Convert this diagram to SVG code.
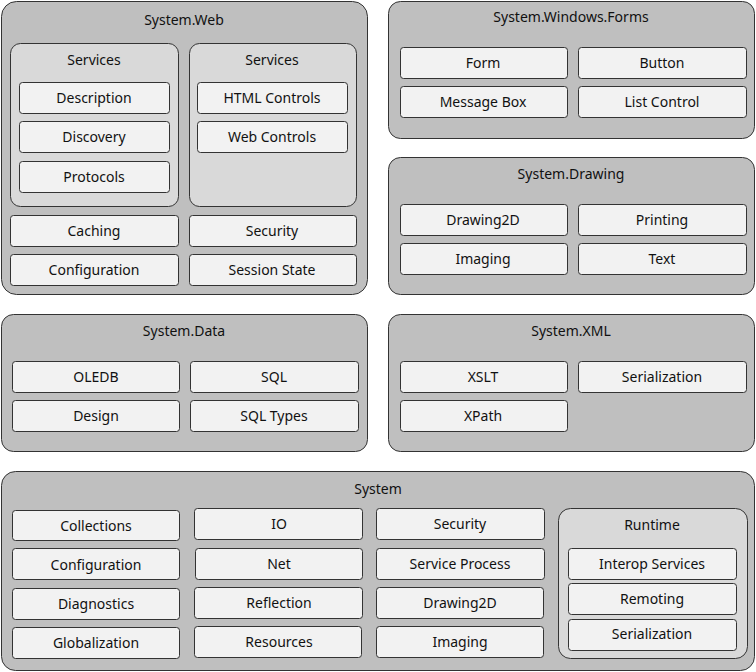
<svg xmlns="http://www.w3.org/2000/svg" width="756" height="672" viewBox="0 0 756 672">
<style>
.outer{fill:#bfbfbf;stroke:#333;stroke-width:1}
.inner{fill:#d9d9d9;stroke:#333;stroke-width:1}
.box{fill:#f2f2f2;stroke:#333;stroke-width:1}
text{font-family:"Noto Sans","Liberation Sans",sans-serif;font-size:14px;fill:#111;text-anchor:middle;dominant-baseline:central}
</style>
<rect width="756" height="672" fill="#ffffff"/>
<g id="system-web">
<rect class="outer" x="1.5" y="1.5" width="366" height="293" rx="15"/>
<text x="184" y="19">System.Web</text>
<g id="web-services-1">
<rect class="inner" x="10.5" y="43.5" width="168" height="163" rx="10"/>
<text x="94" y="59">Services</text>
<g id="web-description"><rect class="box" x="19.5" y="82.5" width="150" height="31" rx="3"/><text x="94" y="97">Description</text></g>
<g id="web-discovery"><rect class="box" x="19.5" y="121.5" width="150" height="31" rx="3"/><text x="94" y="136">Discovery</text></g>
<g id="web-protocols"><rect class="box" x="19.5" y="161.5" width="150" height="31" rx="3"/><text x="94" y="176">Protocols</text></g>
</g>
<g id="web-services-2">
<rect class="inner" x="189.5" y="43.5" width="167" height="163" rx="10"/>
<text x="272" y="59">Services</text>
<g id="web-html"><rect class="box" x="197.5" y="82.5" width="150" height="31" rx="3"/><text x="272" y="97">HTML Controls</text></g>
<g id="web-webcontrols"><rect class="box" x="197.5" y="121.5" width="150" height="31" rx="3"/><text x="272" y="136">Web Controls</text></g>
</g>
<g id="web-caching"><rect class="box" x="10.5" y="215.5" width="168" height="31" rx="3"/><text x="94" y="230">Caching</text></g>
<g id="web-security"><rect class="box" x="189.5" y="215.5" width="167" height="31" rx="3"/><text x="272" y="230">Security</text></g>
<g id="web-configuration"><rect class="box" x="10.5" y="254.5" width="168" height="31" rx="3"/><text x="94" y="269">Configuration</text></g>
<g id="web-session"><rect class="box" x="189.5" y="254.5" width="167" height="31" rx="3"/><text x="272" y="269">Session State</text></g>
</g>
<g id="system-windows-forms">
<rect class="outer" x="388.5" y="1.5" width="366" height="137" rx="12"/>
<text x="571" y="16">System.Windows.Forms</text>
<g id="wf-form"><rect class="box" x="400.5" y="47.5" width="167" height="31" rx="3"/><text x="483" y="62">Form</text></g>
<g id="wf-button"><rect class="box" x="578.5" y="47.5" width="168" height="31" rx="3"/><text x="662" y="62">Button</text></g>
<g id="wf-messagebox"><rect class="box" x="400.5" y="86.5" width="167" height="31" rx="3"/><text x="483" y="101">Message Box</text></g>
<g id="wf-listcontrol"><rect class="box" x="578.5" y="86.5" width="168" height="31" rx="3"/><text x="662" y="101">List Control</text></g>
</g>
<g id="system-drawing">
<rect class="outer" x="388.5" y="157.5" width="366" height="137" rx="12"/>
<text x="571" y="173">System.Drawing</text>
<g id="dr-drawing2d"><rect class="box" x="400.5" y="204.5" width="167" height="31" rx="3"/><text x="483" y="219">Drawing2D</text></g>
<g id="dr-printing"><rect class="box" x="578.5" y="204.5" width="168" height="31" rx="3"/><text x="662" y="219">Printing</text></g>
<g id="dr-imaging"><rect class="box" x="400.5" y="243.5" width="167" height="31" rx="3"/><text x="483" y="258">Imaging</text></g>
<g id="dr-text"><rect class="box" x="578.5" y="243.5" width="168" height="31" rx="3"/><text x="662" y="258">Text</text></g>
</g>
<g id="system-data">
<rect class="outer" x="1.5" y="314.5" width="366" height="137" rx="12"/>
<text x="184" y="330">System.Data</text>
<g id="data-oledb"><rect class="box" x="12.5" y="361.5" width="167" height="31" rx="3"/><text x="96" y="376">OLEDB</text></g>
<g id="data-sql"><rect class="box" x="190.5" y="361.5" width="168" height="31" rx="3"/><text x="274" y="376">SQL</text></g>
<g id="data-design"><rect class="box" x="12.5" y="400.5" width="167" height="31" rx="3"/><text x="96" y="415">Design</text></g>
<g id="data-sqltypes"><rect class="box" x="190.5" y="400.5" width="168" height="31" rx="3"/><text x="274" y="415">SQL Types</text></g>
</g>
<g id="system-xml">
<rect class="outer" x="388.5" y="314.5" width="366" height="137" rx="12"/>
<text x="571" y="330">System.XML</text>
<g id="xml-xslt"><rect class="box" x="400.5" y="361.5" width="167" height="31" rx="3"/><text x="483" y="376">XSLT</text></g>
<g id="xml-serialization"><rect class="box" x="578.5" y="361.5" width="168" height="31" rx="3"/><text x="662" y="376">Serialization</text></g>
<g id="xml-xpath"><rect class="box" x="400.5" y="400.5" width="167" height="31" rx="3"/><text x="483" y="415">XPath</text></g>
</g>
<g id="system">
<rect class="outer" x="1.5" y="471.5" width="753" height="199" rx="14"/>
<text x="378" y="488">System</text>
<g id="sys-collections"><rect class="box" x="12.5" y="510.5" width="167" height="30" rx="3"/><text x="96" y="525">Collections</text></g>
<g id="sys-configuration"><rect class="box" x="12.5" y="548.5" width="167" height="31" rx="3"/><text x="96" y="564">Configuration</text></g>
<g id="sys-diagnostics"><rect class="box" x="12.5" y="588.5" width="167" height="31" rx="3"/><text x="96" y="603">Diagnostics</text></g>
<g id="sys-globalization"><rect class="box" x="12.5" y="627.5" width="167" height="31" rx="3"/><text x="96" y="642">Globalization</text></g>
<g id="sys-io"><rect class="box" x="194.5" y="508.5" width="168" height="31" rx="3"/><text x="279" y="523">IO</text></g>
<g id="sys-net"><rect class="box" x="195.5" y="548.5" width="167" height="31" rx="3"/><text x="279" y="563">Net</text></g>
<g id="sys-reflection"><rect class="box" x="194.5" y="587.5" width="168" height="31" rx="3"/><text x="279" y="602">Reflection</text></g>
<g id="sys-resources"><rect class="box" x="194.5" y="626.5" width="167" height="31" rx="3"/><text x="279" y="641">Resources</text></g>
<g id="sys-security"><rect class="box" x="376.5" y="508.5" width="168" height="31" rx="3"/><text x="460" y="523">Security</text></g>
<g id="sys-serviceprocess"><rect class="box" x="376.5" y="548.5" width="168" height="31" rx="3"/><text x="460" y="563">Service Process</text></g>
<g id="sys-drawing2d"><rect class="box" x="376.5" y="587.5" width="167" height="31" rx="3"/><text x="460" y="602">Drawing2D</text></g>
<g id="sys-imaging"><rect class="box" x="376.5" y="626.5" width="167" height="31" rx="3"/><text x="460" y="641">Imaging</text></g>
<g id="sys-runtime">
<rect class="inner" x="558.5" y="508.5" width="189" height="150" rx="12"/>
<text x="652" y="524">Runtime</text>
<g id="rt-interop"><rect class="box" x="568.5" y="548.5" width="168" height="31" rx="3"/><text x="652" y="563">Interop Services</text></g>
<g id="rt-remoting"><rect class="box" x="568.5" y="583.5" width="168" height="31" rx="3"/><text x="652" y="598">Remoting</text></g>
<g id="rt-serialization"><rect class="box" x="568.5" y="619.5" width="168" height="31" rx="3"/><text x="652" y="633">Serialization</text></g>
</g>
</g>
<g id="connectors"></g>
</svg>
